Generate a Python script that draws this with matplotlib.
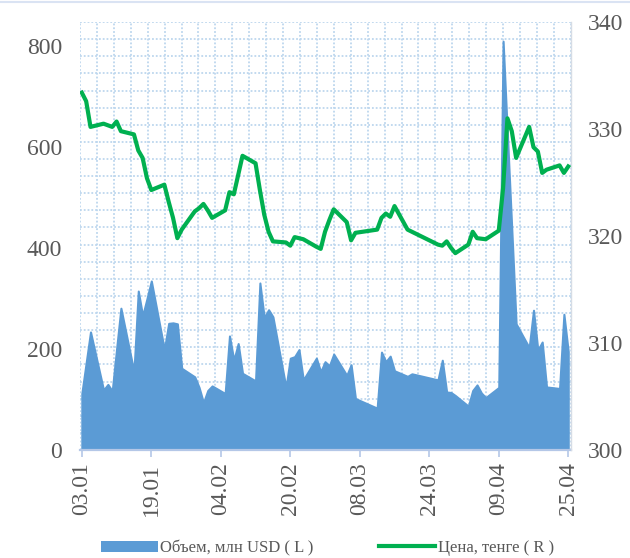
import numpy as np
import pandas as pd
import matplotlib.pyplot as plt
from matplotlib.lines import Line2D
from matplotlib.patches import Patch

# --- Data (2018 trading days) ---
dates = [
    '03.01', '04.01', '05.01', '08.01', '09.01', '10.01', '11.01', '12.01',
    '15.01', '16.01', '17.01', '18.01', '19.01', '22.01', '23.01', '24.01',
    '25.01', '26.01', '29.01', '30.01', '31.01', '01.02', '02.02', '05.02',
    '06.02', '07.02', '08.02', '09.02', '12.02', '13.02', '14.02', '15.02',
    '16.02', '19.02', '20.02', '21.02', '22.02', '23.02', '26.02', '27.02',
    '28.02', '01.03', '02.03', '05.03', '06.03', '07.03', '12.03', '13.03',
    '14.03', '15.03', '16.03', '19.03', '20.03', '26.03', '27.03', '28.03',
    '29.03', '30.03', '02.04', '03.04', '04.04', '05.04', '06.04', '09.04',
    '10.04', '11.04', '12.04', '13.04', '16.04', '17.04', '18.04', '19.04',
    '20.04', '23.04', '24.04', '25.04',
]

volume = [
    112, 173, 234, 119, 130, 117, 200, 281,
    155, 315, 266, 300, 335, 199, 251, 252,
    250, 162, 145, 124, 94, 118, 127, 112,
    226, 178, 211, 152, 137, 331, 262, 278,
    264, 124, 182, 185, 199, 139, 182, 155,
    175, 167, 190, 148, 169, 102, 83, 194,
    175, 186, 157, 146, 151, 139, 178, 115,
    114, 108, 87, 118, 129, 113, 104, 124,
    810, 623, 437, 250, 203, 277, 198, 214,
    125, 122, 269, 195,
]

price = [
    333.4, 332.6, 330.2, 330.5, 330.35, 330.2, 330.7, 329.8,
    329.5, 328.0, 327.3, 325.4, 324.3, 324.8, 323.2, 321.7,
    319.8, 320.6, 322.3, 322.6, 323.0, 322.4, 321.7, 322.4,
    324.1, 323.9, 325.7, 327.5, 326.8, 324.3, 322.0, 320.4,
    319.5, 319.4, 319.1, 319.9, 319.8, 319.7, 319.0, 318.8,
    320.4, 321.5, 322.5, 321.3, 319.6, 320.3, 320.6, 321.7,
    322.1, 321.8, 322.8, 320.6, 320.4, 319.2, 319.1, 319.5,
    318.9, 318.4, 319.2, 320.4, 319.8, 319.75, 319.7, 320.5,
    324.5, 331.0, 329.8, 327.3, 330.2, 328.3, 327.9, 325.9,
    326.2, 326.6, 325.9, 326.5,
]

tick_labels = ['03.01', '19.01', '04.02', '20.02', '08.03', '24.03', '09.04', '25.04']
volume_label = 'Объем, млн USD ( L )'
price_label = 'Цена, тенге ( R )'


def main():
    plt.rcParams['font.family'] = ['Liberation Serif', 'DejaVu Serif']

    x = pd.to_datetime([d + '.2018' for d in dates], format='%d.%m.%Y')
    ticks = pd.to_datetime([t + '.2018' for t in tick_labels], format='%d.%m.%Y')

    blue = '#5B9BD5'
    green = '#00B050'
    grid_color = '#BDD7EE'
    text_color = '#595959'

    fig = plt.figure(figsize=(6.3, 5.58), dpi=100)
    ax = fig.add_axes([0.127, 0.1935, 0.779, 0.767])
    ax2 = ax.twinx()

    # --- Dotted grid (drawn in axes fraction) ---
    for f in np.linspace(0, 1, 30):
        ax.plot([f, f], [0, 1], transform=ax.transAxes, color=grid_color,
                lw=1.3, ls=(0, (1.0, 1.1)), zorder=1)
    for f in np.linspace(0, 1, 26):
        ax.plot([0, 1], [f, f], transform=ax.transAxes, color=grid_color,
                lw=1.3, ls=(0, (1.0, 1.1)), zorder=1)

    # --- Volume area (left axis) ---
    ax.fill_between(x, volume, 0, facecolor=blue, edgecolor=blue, lw=1.5,
                    joinstyle='round', zorder=2)
    ax.set_ylim(0, 848)
    ax.set_yticks([0, 200, 400, 600, 800])
    ax.set_xlim(x[0] - pd.Timedelta(hours=10), x[-1] + pd.Timedelta(hours=14))
    ax.set_xticks(ticks)
    ax.set_xticklabels(tick_labels)

    # --- Price line (right axis) ---
    ax2.plot(x, price, color=green, lw=3.0, solid_joinstyle='round', zorder=3)
    ax2.set_ylim(300, 340)
    ax2.set_yticks([300, 310, 320, 330, 340])

    # --- Spines and ticks ---
    for s in ['top', 'left', 'right']:
        ax.spines[s].set_visible(False)
    ax.spines['bottom'].set_color('#B4C7E7')
    ax.spines['bottom'].set_linewidth(1.6)
    ax.spines['bottom'].set_zorder(4)
    for s in ['top', 'left', 'bottom']:
        ax2.spines[s].set_visible(False)
    ax2.spines['right'].set_color('#D6DCE5')
    ax2.spines['right'].set_linewidth(1.0)

    ax.tick_params(axis='y', length=0, pad=13, labelsize=17, labelcolor=text_color)
    ax.tick_params(axis='x', length=5, width=1.2, color='#B4C7E7', pad=4,
                   labelsize=17, labelrotation=90, labelcolor=text_color)
    ax2.tick_params(axis='y', length=0, pad=12, labelsize=17, labelcolor=text_color)

    # --- Legend ---
    handles = [
        Patch(facecolor=blue, edgecolor='none', label=volume_label),
        Line2D([], [], color=green, lw=3, label=price_label),
    ]
    fig.legend(handles=handles, loc='center', bbox_to_anchor=(0.52, 0.018),
               ncol=2, frameon=False, fontsize=12, handlelength=3.4,
               handleheight=0.63, handletextpad=0.15, columnspacing=3.9,
               labelcolor=text_color)

    # thin chart-area border at the top
    fig.add_artist(Line2D([0, 1], [0.997, 0.997], transform=fig.transFigure,
                          color='#DAE3F3', lw=1.5))

    fig.savefig('out.png', dpi=100)


if __name__ == '__main__':
    main()
